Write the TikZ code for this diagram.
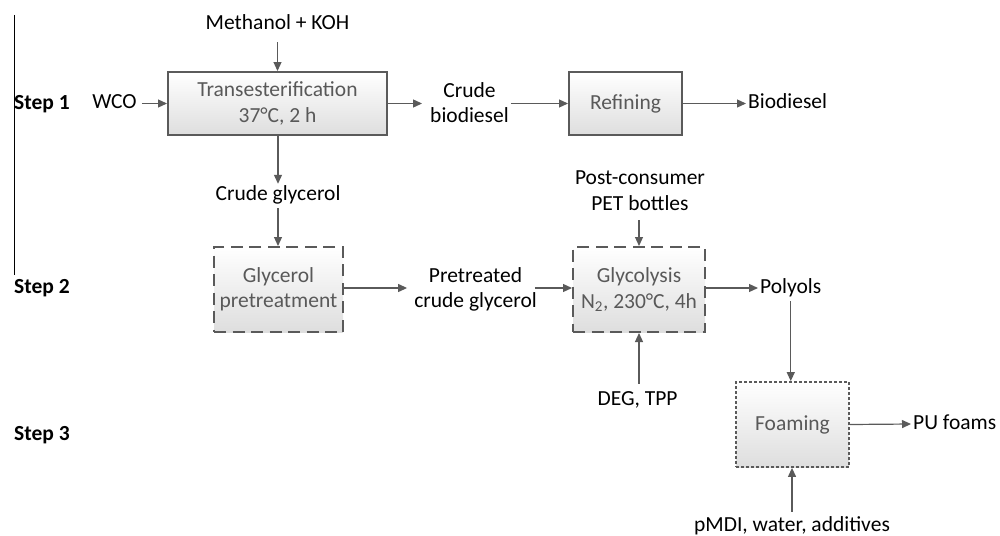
\documentclass[tikz,border=0pt]{standalone}
\usepackage{fontspec}
\setmainfont{Carlito}
\usetikzlibrary{arrows.meta}
\definecolor{edge}{HTML}{5A5A5A}
\definecolor{boxtext}{HTML}{595959}
\tikzset{
  lbl/.style={font=\fontsize{21.5}{25.5}\selectfont, text=black, align=center, inner sep=2pt},
  slbl/.style={lbl, text height=14pt, text depth=4pt},
  steplbl/.style={font=\fontsize{21.5}{25}\selectfont\bfseries, text=black, anchor=west,
    inner sep=0pt, text height=14pt, text depth=4pt},
  procbox/.style={draw=edge, line width=2pt, top color=white, bottom color=black!13,
    font=\fontsize{21.5}{25.5}\selectfont, text=boxtext, align=center, inner sep=0pt},
  dashbox/.style={procbox, dash pattern=on 12pt off 6.5pt},
  dotbox/.style={procbox, line width=1.8pt, dash pattern=on 3pt off 2pt},
  flow/.style={draw=edge, line width=1.2pt, -{Triangle[length=9pt,width=8pt]}},
}
\begin{document}
\begin{tikzpicture}[x=1pt,y=-1pt]
\useasboundingbox (0,0) rectangle (1000,535);
\coordinate (vtop) at (14,15);
\coordinate (vbot) at (14,275);
\draw[black, line width=1pt] (vtop) -- (vbot);

\node[steplbl] (s1) at (14,104) {Step 1};
\node[steplbl] (s2) at (14,288) {Step 2};
\node[steplbl] (s3) at (14,435) {Step 3};

% Step 1
\node[procbox, minimum width=219pt, minimum height=63pt] (trans) at (277.5,103.5) {Transesterification\\37°C, 2 h};
\node[slbl] (meth) at (277.5,25) {Methanol + KOH};
\node[slbl] (wco) at (114.5,103.5) {WCO};
\node[lbl] (cbio) at (469.5,102.5) {Crude\\biodiesel};
\node[procbox, minimum width=113pt, minimum height=63pt] (ref) at (625.5,103.5) {Refining};
\node[slbl, anchor=west] (bio) at (746,103.5) {Biodiesel};
\node[slbl] (cgly) at (278,195) {Crude glycerol};

% Step 2
\node[dashbox, minimum width=129pt, minimum height=85pt] (pre) at (278.5,289.5) {Glycerol\\pretreatment};
\node[lbl] (pcg) at (475.5,289.5) {Pretreated\\crude glycerol};
\node[dashbox, minimum width=132pt, minimum height=85pt] (glyc) at (639,289.5) {Glycolysis\\N\textsubscript{2}, 230°C, 4h};
\node[lbl] (pet) at (640,190.5) {Post-consumer\\PET bottles};
\node[slbl, anchor=west] (pol) at (758,288) {Polyols};
\node[slbl] (deg) at (637.5,400) {DEG, TPP};

% Step 3
\node[dotbox, minimum width=113pt, minimum height=85pt] (foam) at (792.5,424.5) {Foaming};
\node[slbl, anchor=west] (pu) at (911,424) {PU foams};
\node[slbl] (pmdi) at (792,526) {pMDI, water, additives};

\coordinate (row2) at (0,288);

% connectors
\draw[flow, shorten <=6pt] (meth.south) -- (meth.south |- trans.north);
\draw[flow, shorten <=3pt] (wco.east) -- (trans.west);
\draw[flow, shorten >=6pt] (trans.east) -- (cbio.west |- trans.east);
\draw[flow] (cbio.east |- ref.west) -- (ref.west);
\draw[flow] (ref.east) -- (bio.west);
\draw[flow] (cgly.north |- trans.south) -- (cgly.north);
\draw[flow, shorten <=2pt] (cgly.south) -- (cgly.south |- pre.north);
\draw[flow, shorten >=5pt] (pre.east |- row2) -- (pcg.west |- row2);
\draw[flow, shorten <=-4pt] (pcg.east |- row2) -- (glyc.west |- row2);
\draw[flow, shorten <=8pt] (pet.south -| glyc.north) -- (glyc.north);
\draw[flow] (glyc.east |- row2) -- (pol.west);
\draw[flow] ([yshift=5pt]deg.north -| glyc.south) -- (glyc.south);
\draw[flow, shorten <=2pt] (pol.south) -- (pol.south |- foam.north);
\draw[flow] (foam.east) -- (pu.west);
\draw[flow] ([yshift=3pt]pmdi.north) -- (pmdi.north |- foam.south);
\end{tikzpicture}
\end{document}
